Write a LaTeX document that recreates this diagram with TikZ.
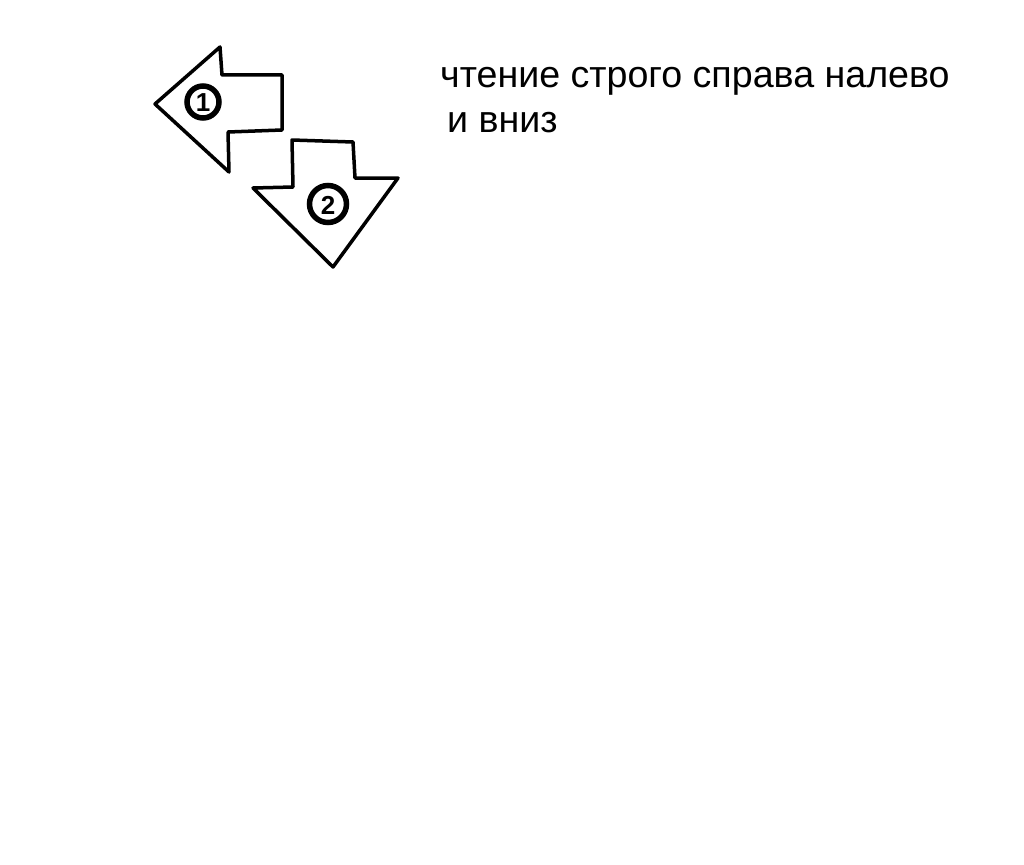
\documentclass[tikz,border=0pt]{standalone}
\usepackage{fontspec}
\setmainfont{Liberation Sans}
\begin{document}
\begin{tikzpicture}[x=1pt,y=-1pt,
  arrowshape/.style={draw=black,line width=3.5pt,line join=round,fill=white},
  ring/.style={draw=black,line width=5.5pt},
  digit/.style={inner sep=0pt,font=\bfseries\fontsize{26}{26}\selectfont},
  label/.style={anchor=base west,inner sep=0pt,font=\fontsize{37.6}{40}\selectfont}]
\useasboundingbox (0,0) rectangle (1024,864);
\fill[white] (0,0) rectangle (1024,864);
% arrow 1 (left)
\draw[arrowshape] (155,104) -- (220,47) -- (222,75) -- (282,75) -- (282,130) -- (228,132) -- (229,172) -- cycle;
\draw[ring] (203,102) circle[radius=16];
\node[digit] (n1) at (203,103) {1};
% arrow 2 (down)
\draw[arrowshape] (292,140) -- (353,142) -- (355,178) -- (398,178) -- (333,267) -- (253,188) -- (293,187) -- cycle;
\draw[ring] (328,204) circle[radius=18.5];
\node[digit] (n2) at (328,205) {2};
% text
\node[label] (t1) at (440,88) {чтение строго справа налево};
\node[label] (t2) at (447,132) {и вниз};
\end{tikzpicture}
\end{document}
